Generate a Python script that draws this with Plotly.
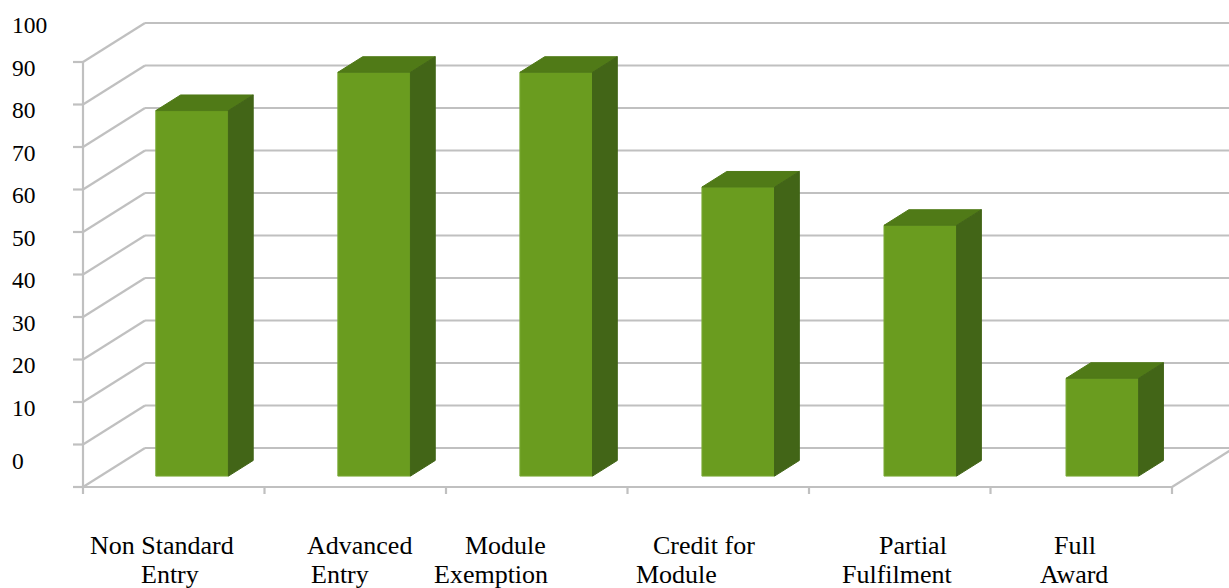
import plotly.graph_objects as go

# ---- data ----
categories = ["Non Standard Entry", "Advanced Entry", "Module Exemption",
              "Credit for Module", "Partial Fulfilment", "Full Award"]
tick_labels = ["Non Standard<br>Entry", "Advanced<br>Entry", "Module<br>Exemption",
               "Credit for<br>Module", "Partial<br>Fulfilment", "Full<br>Award"]
values = [86, 95, 95, 68, 59, 23]
y_ticks = [0, 10, 20, 30, 40, 50, 60, 70, 80, 90, 100]

# ---- canvas / projection ----
W, H = 1229, 588
ORIGIN_X_PX, ORIGIN_Y_PX = 83, 487      # front-left corner of the floor
PX_PER_X = 181.5                         # one category slot
PX_PER_Y = 4.25                          # one value unit
WALL_DX = 62 / PX_PER_X                  # oblique depth offset (x units)
WALL_DY = 39 / PX_PER_Y                  # oblique depth offset (y units)

BAR_WIDTH = 0.4
BAR_FRONT = 0.28                         # depth fraction of the bar's front face
BAR_DEPTH = 0.40                         # depth fraction covered by the bar
BAR_PITCH = 1.003                        # bar spacing, in category slots
BAR_OFFSET = 0.004

x_range = [-ORIGIN_X_PX / PX_PER_X, (W - ORIGIN_X_PX) / PX_PER_X]
y_range = [-(H - ORIGIN_Y_PX) / PX_PER_Y, ORIGIN_Y_PX / PX_PER_Y]

GRID = "#C0C0C0"
FRONT = "#6A9C1F"
TOP = "#507A17"
SIDE = "#426517"
FONT = "Times New Roman, Liberation Serif, serif"

shapes = []


def seg(x0, y0, x1, y1, color=GRID, width=2.2):
    shapes.append(dict(type="line", xref="x", yref="y", x0=x0, y0=y0, x1=x1, y1=y1,
                       line=dict(color=color, width=width), layer="below"))


# walls: side-wall diagonals and back-wall gridlines
for v in y_ticks:
    seg(0, v, WALL_DX, v + WALL_DY)
    seg(WALL_DX, v + WALL_DY, x_range[1] + 1, v + WALL_DY)
    seg(-10 / PX_PER_X, v, 0, v)                      # value-axis tick

n = len(categories)
seg(0, 0, 0, y_ticks[-1])                             # value axis
seg(0, 0, n, 0)                                       # category axis (floor front edge)
seg(n, 0, n + WALL_DX, WALL_DY)                       # floor right edge
for i in range(n + 1):
    seg(i, 0, i, -7 / PX_PER_Y)                       # category boundary ticks

# ---- bars ----
base = BAR_FRONT * WALL_DY
bdx = BAR_DEPTH * WALL_DX
bdy = BAR_DEPTH * WALL_DY
centers = [(i + 0.5) * BAR_PITCH + BAR_OFFSET + BAR_FRONT * WALL_DX for i in range(n)]

fig = go.Figure()
fig.add_trace(go.Bar(
    x=centers, y=values, base=base, width=BAR_WIDTH,
    marker=dict(color=FRONT, line=dict(color="#7BAA36", width=1)),
    hoverinfo="skip", showlegend=False,
))

top_x, top_y, side_x, side_y = [], [], [], []
for c, v in zip(centers, values):
    xl, xr = c - BAR_WIDTH / 2, c + BAR_WIDTH / 2
    yt = base + v
    top_x += [xl, xr, xr + bdx, xl + bdx, xl, None]
    top_y += [yt, yt, yt + bdy, yt + bdy, yt, None]
    side_x += [xr, xr + bdx, xr + bdx, xr, xr, None]
    side_y += [base, base + bdy, yt + bdy, yt, base, None]

fig.add_trace(go.Scatter(x=top_x, y=top_y, mode="lines", fill="toself",
                         fillcolor=TOP, line=dict(color=TOP, width=1),
                         hoverinfo="skip", showlegend=False))
fig.add_trace(go.Scatter(x=side_x, y=side_y, mode="lines", fill="toself",
                         fillcolor=SIDE, line=dict(color=SIDE, width=1),
                         hoverinfo="skip", showlegend=False))

# ---- labels ----
annotations = []
for v in y_ticks:
    annotations.append(dict(
        x=10 / W, xref="paper", xanchor="left",
        y=v + WALL_DY, yref="y", yanchor="middle",
        yshift=-2 if v else -13,
        text=str(v), showarrow=False,
        font=dict(family=FONT, size=23.5, color="black"),
    ))

# category names: one annotation per text line, wrapped as in the label strings
LINE_Y_PX = [545, 574]
LINE_NUDGE_PX = [[-12, 4, -31, -14, 13, -6],
                 [-4, -15, -46, -42, -2, -7]]
for i, lab in enumerate(tick_labels):
    for k, line in enumerate(lab.split("<br>")):
        annotations.append(dict(
            x=i + 0.5, xref="x", xanchor="center", xshift=LINE_NUDGE_PX[k][i],
            y=1 - LINE_Y_PX[k] / H, yref="paper", yanchor="middle",
            text=line, showarrow=False,
            font=dict(family=FONT, size=26, color="black"),
        ))

fig.update_layout(
    width=W, height=H, autosize=False,
    margin=dict(l=0, r=0, t=0, b=0),
    paper_bgcolor="white", plot_bgcolor="white",
    font=dict(family=FONT),
    xaxis=dict(range=x_range, visible=False, fixedrange=True),
    yaxis=dict(range=y_range, visible=False, fixedrange=True),
    shapes=shapes, annotations=annotations,
    hovermode=False,
)

fig.write_html("out.html", config={"displayModeBar": False})
